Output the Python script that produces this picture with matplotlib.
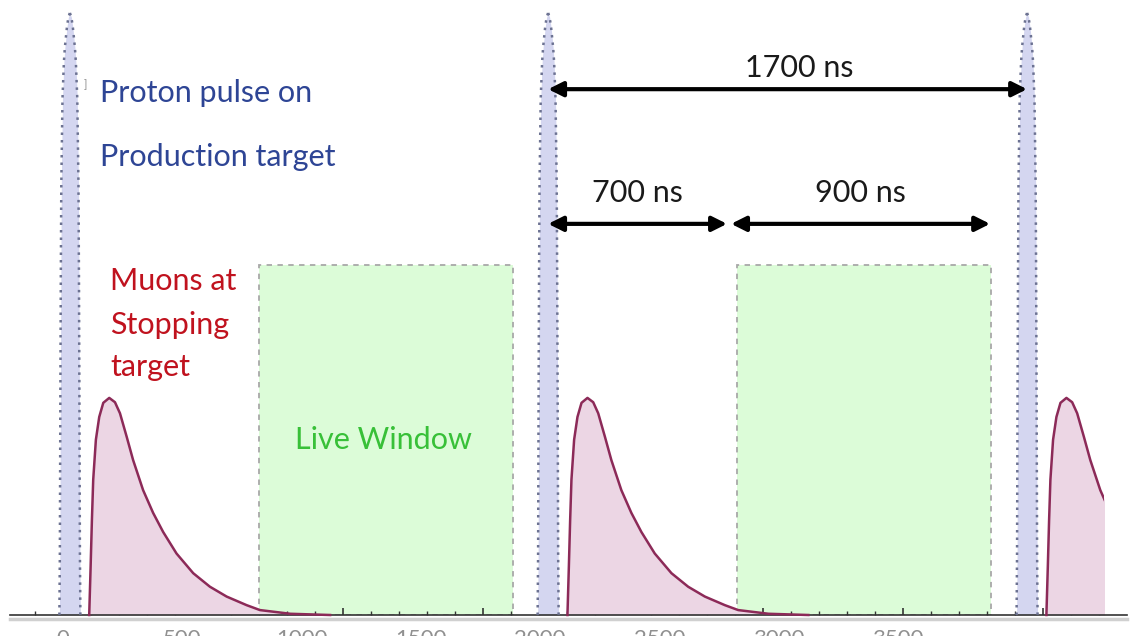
import numpy as np
import matplotlib
matplotlib.use("Agg")
import matplotlib.pyplot as plt
from matplotlib.patches import Rectangle

plt.rcParams['font.family'] = ['Lato', 'DejaVu Sans']

# ---- data (ns) ----
pulse_times = [29, 2034, 4042]
# proton pulse shape: offset from centre (ns), height
pulse_dt = [-44, -42, -40, -38, -36, -31, -25, -21, -12.6, -6.3, 0,
            6.3, 12.6, 21, 25, 31, 36, 38, 40, 42, 44]
pulse_h = [0.0, 0.10, 0.35, 0.55, 0.70, 0.84, 0.90, 0.923, 0.955, 0.972, 0.979,
           0.972, 0.955, 0.923, 0.90, 0.84, 0.70, 0.55, 0.35, 0.10, 0.0]

# muon arrival profile: offset from muon start (ns), height
muon_delay = 81
muon_dt = [0, 5.9, 11.3, 16.8, 28, 42, 59, 84, 108, 129, 157, 184, 226, 268,
           310, 366, 436, 506, 576, 660, 716, 843, 1010]
muon_h = [0.0, 0.078, 0.154, 0.22, 0.285, 0.322, 0.345, 0.353, 0.346, 0.328,
          0.290, 0.252, 0.203, 0.166, 0.135, 0.10, 0.068, 0.046, 0.030, 0.016,
          0.008, 0.002, 0.0]
plot_end = 4365

# live windows (start, end) and top
windows = [(822, 1887), (2826, 3891)]
window_top = 0.569

# arrows: (start, end, label)
arrows_top = [(2034, 4042, "1700 ns")]
arrows_mid = [(2034, 2784, "700 ns"), (2801, 3887, "900 ns")]

tick_labels = [0, 500, 1000, 1500, 2000, 2500, 3000, 3500]

# ---- figure ----
fig = plt.figure(figsize=(11.43, 6.36), dpi=100)
ax = fig.add_axes([0, 21 / 636, 1, 615 / 636])
ax.set_xlim(-264, 4528)
ax.set_ylim(0, 1)

clip = Rectangle((-300, -0.1), plot_end + 300, 1.2, transform=ax.transData)

for w0, w1 in windows:
    ax.add_patch(Rectangle((w0, 0), w1 - w0, window_top, facecolor='#dcfcd8',
                           edgecolor='#a8a8a8', lw=1.3, ls=(0, (3, 3)), zorder=1))

pdt = np.array(pulse_dt)
mdt = np.array(muon_dt)
for p in pulse_times:
    ax.fill_between(p + pdt, 0, pulse_h, color='#d4d6f0', lw=0, zorder=2)
    n = len(pdt) // 2
    ax.plot(p + pdt[:n + 1], pulse_h[:n + 1], color='#6c7292', lw=1.8,
            ls=(0, (1, 2)), zorder=3)
    ax.plot(p + pdt[n:], pulse_h[n:], color='#6c7292', lw=1.8,
            ls=(0, (1, 2)), zorder=3)

    x = p + muon_delay + mdt
    f = ax.fill_between(x, 0, muon_h, color='#ecd6e4', lw=0, zorder=2)
    f.set_clip_path(clip)
    ln, = ax.plot(x, muon_h, color='#8c2a58', lw=1.8, zorder=3)
    ln.set_clip_path(clip)

# arrows
fs = 22
for a, b, lab in arrows_top:
    ax.annotate('', xy=(b, 0.855), xytext=(a, 0.855),
                arrowprops=dict(arrowstyle='<|-|>', lw=3, color='black',
                                mutation_scale=22, shrinkA=0, shrinkB=0), zorder=5)
    ax.text((a + b) / 2 + 50, 0.889, lab, ha='center', va='center', fontsize=fs, color='#1a1a1a')
for a, b, lab in arrows_mid:
    ax.annotate('', xy=(b, 0.636), xytext=(a, 0.636),
                arrowprops=dict(arrowstyle='<|-|>', lw=3, color='black',
                                mutation_scale=22, shrinkA=0, shrinkB=0), zorder=5)
    ax.text((a + b) / 2, 0.686, lab, ha='center', va='center', fontsize=fs, color='#1a1a1a')

# labels
ax.text(88, 0.862, ']', fontsize=8, color='#909090', va='center')
ax.text(155, 0.849, 'Proton pulse on', fontsize=fs, color='#2e4595', va='center')
ax.text(155, 0.745, 'Production target', fontsize=fs, color='#2e4595', va='center')
ax.text(197, 0.543, 'Muons at', fontsize=fs, color='#c0121e', va='center')
ax.text(197, 0.472, 'Stopping', fontsize=fs, color='#c0121e', va='center')
ax.text(197, 0.403, 'target', fontsize=fs, color='#c0121e', va='center')
ax.text(1342, 0.285, 'Live Window', fontsize=fs, color='#38c038', ha='center', va='center')

# axis
for s in ['top', 'left', 'right']:
    ax.spines[s].set_visible(False)
ax.spines['bottom'].set_bounds(-222, 4461)
ax.spines['bottom'].set_color('#333333')
ax.spines['bottom'].set_linewidth(1.2)
ax.axhline(-0.006, xmin=0.009, xmax=0.986, color='#d0d0d0', lw=2.5, clip_on=False)
ax.set_yticks([])
ax.set_xticks(np.arange(0, 4400, 587.0))
ax.set_xticks(np.arange(-117.4, 4400, 117.4), minor=True)
ax.set_xticklabels([])
ax.tick_params(axis='x', which='major', direction='in', length=5, width=1.2, color='#333333')
ax.tick_params(axis='x', which='minor', direction='in', length=3, width=1, color='#333333')
for v in tick_labels:
    ax.text(v, -0.022, str(v), ha='center', va='top', fontsize=16, color='#909090',
            clip_on=False)

fig.savefig('out.png', dpi=100)
